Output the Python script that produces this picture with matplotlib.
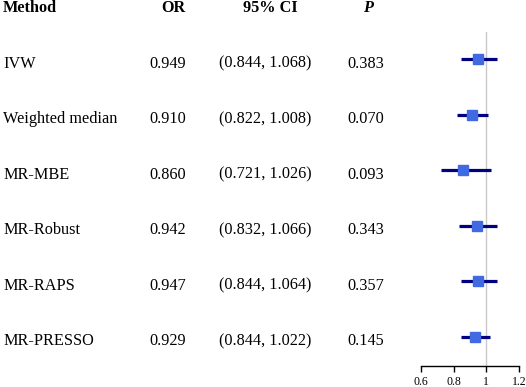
import matplotlib
matplotlib.use("Agg")
from matplotlib import pyplot as plt
from matplotlib import transforms
import numpy as np

# data
methods = ["IVW", "Weighted median", "MR-MBE", "MR-Robust", "MR-RAPS", "MR-PRESSO"]
odds = [0.949, 0.910, 0.860, 0.942, 0.947, 0.929]
ci_low = [0.844, 0.822, 0.721, 0.832, 0.844, 0.844]
ci_high = [1.068, 1.008, 1.026, 1.066, 1.064, 1.022]
pvals = [0.383, 0.070, 0.093, 0.343, 0.357, 0.145]
xticks = [0.6, 0.8, 1.0, 1.2]
xticklabels = ["0.6", "0.8", "1", "1.2"]

plt.rcParams["font.family"] = ["Liberation Serif", "DejaVu Serif"]

W, H = 526, 387
fig = plt.figure(figsize=(W / 100, H / 100), dpi=100)

# forest panel placed in pixel units
left_px, right_px, top_px, bottom_px = 421, 519, 32, 366
ax = fig.add_axes([left_px / W, 1 - bottom_px / H,
                   (right_px - left_px) / W, (bottom_px - top_px) / H])

rows = np.arange(len(methods))
ax.axvline(1.0, color="#c8c8c8", lw=1.0, zorder=1)
ax.hlines(rows, ci_low, ci_high, color="#000080", lw=2.3, zorder=2)
ax.plot(odds, rows, "s", color="#4169e1", markersize=7, zorder=3)

ax.set_xlim(0.6, 1.2)
ax.set_ylim(5.526, -0.49)
ax.set_xticks(xticks)
ax.set_xticklabels(xticklabels, fontsize=8.5)
ax.set_yticks([])
for side in ["left", "top", "right"]:
    ax.spines[side].set_visible(False)
ax.spines["bottom"].set_linewidth(1.0)
ax.tick_params(axis="x", direction="out", length=4, width=1.0, pad=3.5)
ax.patch.set_alpha(0)

# text columns: x in figure fraction, y in data rows
trans = transforms.blended_transform_factory(fig.transFigure, ax.transData)
fs = 11.7
col_method = 3 / W
col_or = 168 / W
col_ci = 265 / W
col_p = 366 / W
header_y = -0.93
text_off = 0.08

ax.text(col_method, header_y, "Method", transform=trans, fontsize=fs,
        fontweight="bold", ha="left", va="center", clip_on=False)
ax.text(col_or + 5 / W, header_y, "OR", transform=trans, fontsize=fs,
        fontweight="bold", ha="center", va="center", clip_on=False)
ax.text(col_ci + 5 / W, header_y, "95% CI", transform=trans, fontsize=fs,
        fontweight="bold", ha="center", va="center", clip_on=False)
ax.text(col_p + 2 / W, header_y, "P", transform=trans, fontsize=fs,
        fontweight="bold", style="italic", ha="center", va="center", clip_on=False)

for i, m in enumerate(methods):
    y = rows[i] + text_off
    ax.text(col_method, y, m, transform=trans, fontsize=fs, ha="left",
            va="center", clip_on=False)
    ax.text(col_or, y, "%.3f" % odds[i], transform=trans, fontsize=fs,
            ha="center", va="center", clip_on=False)
    ax.text(col_ci, y, "(%.3f, %.3f)" % (ci_low[i], ci_high[i]), transform=trans,
            fontsize=fs, ha="center", va="center", clip_on=False)
    ax.text(col_p, y, "%.3f" % pvals[i], transform=trans, fontsize=fs,
            ha="center", va="center", clip_on=False)

fig.savefig("out.png", dpi=100)
